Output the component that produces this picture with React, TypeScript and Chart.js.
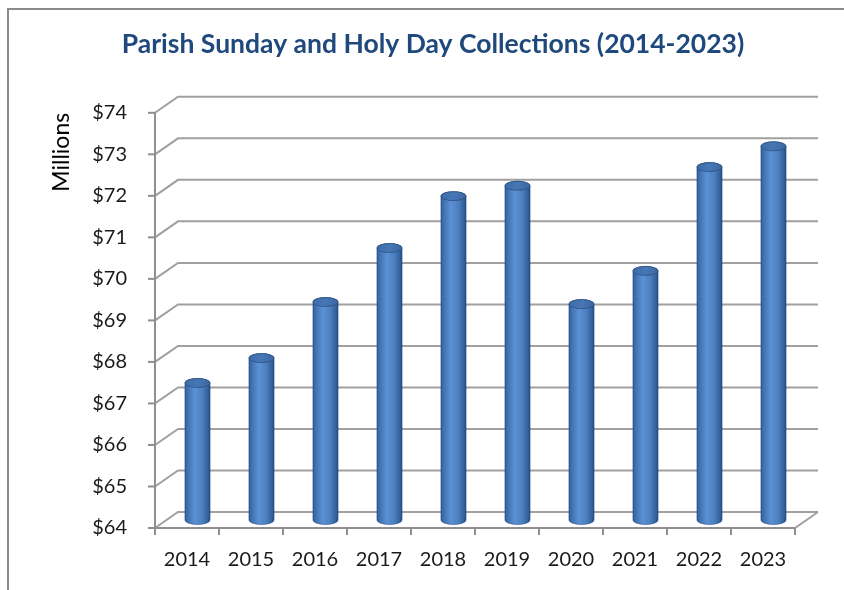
import React, { useEffect, useRef } from 'react';
import { Chart, registerables } from 'chart.js';

Chart.register(...registerables);

// ---- data ----
const years = ['2014', '2015', '2016', '2017', '2018', '2019', '2020', '2021', '2022', '2023'];
const collections = [67.3, 67.9, 69.25, 70.55, 71.8, 72.05, 69.2, 70.0, 72.5, 73.0];
const yMin = 64;
const yMax = 74;
const yStep = 1;
const chartTitle = 'Parish Sunday and Holy Day Collections (2014-2023)';
const yAxisTitle = 'Millions';

// ---- style ----
const FONT = 'Lato, "Open Sans", sans-serif';
const DEPTH_X = 23;
const DEPTH_Y = -16;
const GRID = '#a0a0a0';
const AXIS = '#8f8f8f';

function drawCylinder(ctx: CanvasRenderingContext2D, cx: number, topY: number, botY: number, w: number) {
  const rx = w / 2;
  const ry = 4.5;
  const left = cx - rx;
  const right = cx + rx;
  const g = ctx.createLinearGradient(left, 0, right, 0);
  g.addColorStop(0, '#2f5d99');
  g.addColorStop(0.12, '#4073b5');
  g.addColorStop(0.4, '#5d91d5');
  g.addColorStop(0.7, '#4b7fc1');
  g.addColorStop(0.92, '#345f98');
  g.addColorStop(1, '#2a4e80');
  ctx.save();
  ctx.beginPath();
  ctx.moveTo(left, topY);
  ctx.lineTo(left, botY);
  ctx.ellipse(cx, botY, rx, ry, 0, Math.PI, 0, true);
  ctx.lineTo(right, topY);
  ctx.ellipse(cx, topY, rx, ry, 0, 0, Math.PI, true);
  ctx.closePath();
  ctx.fillStyle = g;
  ctx.fill();
  ctx.strokeStyle = 'rgba(40,70,115,0.55)';
  ctx.lineWidth = 1;
  ctx.stroke();
  const tg = ctx.createLinearGradient(left, topY - ry, right, topY + ry);
  tg.addColorStop(0, '#3d6aa6');
  tg.addColorStop(0.5, '#4777b5');
  tg.addColorStop(1, '#3a659f');
  ctx.beginPath();
  ctx.ellipse(cx, topY, rx, ry, 0, 0, Math.PI * 2);
  ctx.fillStyle = tg;
  ctx.fill();
  ctx.strokeStyle = 'rgba(45,80,130,0.8)';
  ctx.stroke();
  ctx.restore();
}

const threeDPlugin = {
  id: 'threeD',
  afterLayout(chart: any) {
    const tb = chart.titleBlock;
    if (tb) {
      tb.left = 22;
      tb.right = 844;
      tb.width = tb.right - tb.left;
    }
  },
  beforeDraw(chart: any) {
    const ctx = chart.ctx as CanvasRenderingContext2D;
    ctx.save();
    ctx.fillStyle = '#ffffff';
    ctx.fillRect(0, 0, chart.width, chart.height);
    ctx.strokeStyle = '#8a8a8a';
    ctx.lineWidth = 2;
    ctx.beginPath();
    ctx.moveTo(8, 600);
    ctx.lineTo(8, 9);
    ctx.lineTo(850, 9);
    ctx.stroke();
    ctx.restore();
  },
  beforeDatasetsDraw(chart: any) {
    const ctx = chart.ctx as CanvasRenderingContext2D;
    const { left, right, top, bottom } = chart.chartArea;
    const yScale = chart.scales.y;
    const xScale = chart.scales.x;
    ctx.save();
    ctx.lineCap = 'butt';
    ctx.strokeStyle = GRID;
    ctx.lineWidth = 2;
    yScale.ticks.forEach((t: any) => {
      const y = yScale.getPixelForValue(t.value);
      ctx.beginPath();
      ctx.moveTo(left, y);
      ctx.lineTo(left + DEPTH_X, y + DEPTH_Y);
      ctx.lineTo(right + DEPTH_X, y + DEPTH_Y);
      ctx.stroke();
    });
    ctx.beginPath();
    ctx.moveTo(left, bottom);
    ctx.lineTo(right, bottom);
    ctx.lineTo(right + DEPTH_X, bottom + DEPTH_Y);
    ctx.stroke();
    ctx.strokeStyle = AXIS;
    ctx.beginPath();
    ctx.moveTo(left, top);
    ctx.lineTo(left, bottom);
    ctx.lineTo(right, bottom);
    ctx.stroke();
    yScale.ticks.forEach((t: any) => {
      const y = yScale.getPixelForValue(t.value);
      ctx.beginPath();
      ctx.moveTo(left - 7, y);
      ctx.lineTo(left, y);
      ctx.stroke();
    });
    const n = xScale.ticks.length;
    const step = n > 1 ? xScale.getPixelForTick(1) - xScale.getPixelForTick(0) : right - left;
    for (let i = 0; i <= n; i++) {
      const x = i < n ? xScale.getPixelForTick(i) - step / 2 : right;
      ctx.beginPath();
      ctx.moveTo(x, bottom);
      ctx.lineTo(x, bottom + 7);
      ctx.stroke();
    }
    ctx.restore();
    const meta = chart.getDatasetMeta(0);
    const basePx = yScale.getPixelForValue(yMin);
    meta.data.forEach((el: any) => {
      const cx = el.x + DEPTH_X / 2 - 1;
      const topY = el.y + DEPTH_Y / 2;
      const botY = basePx + DEPTH_Y / 2;
      drawCylinder(ctx, cx, topY, botY, el.width);
    });
    return false;
  },
};

export default function App() {
  const ref = useRef<HTMLCanvasElement | null>(null);
  useEffect(() => {
    if (!ref.current) return;
    const chart = new Chart(ref.current, {
      type: 'bar',
      data: {
        labels: years,
        datasets: [
          {
            label: 'Collections',
            data: collections,
            base: yMin,
            backgroundColor: '#4f81bd',
            categoryPercentage: 0.8,
            barPercentage: 0.49,
          },
        ],
      },
      options: {
        animation: false,
        responsive: false,
        devicePixelRatio: 1,
        layout: { padding: { left: 0, right: 49, top: 0, bottom: 0 } },
        plugins: {
          legend: { display: false },
          tooltip: { enabled: false },
          title: {
            display: true,
            text: chartTitle,
            color: '#1f497d',
            font: { family: FONT, size: 26.5, weight: 'bold', lineHeight: 1.2 },
            padding: { top: 29, bottom: 52 },
          },
        },
        scales: {
          x: {
            grid: { display: false, drawTicks: false },
            border: { display: false },
            ticks: { color: '#1a1a1a', font: { family: FONT, size: 20 }, padding: 20, maxRotation: 0 },
            afterFit: (s: any) => { s.height = 62; },
          },
          y: {
            min: yMin,
            max: yMax,
            grid: { display: false, drawTicks: false },
            border: { display: false },
            ticks: {
              stepSize: yStep,
              color: '#1a1a1a',
              font: { family: FONT, size: 20 },
              padding: 28,
              callback: (v: any) => '$' + v,
            },
            title: {
              display: true,
              text: yAxisTitle,
              align: 'end',
              color: '#000',
              font: { family: FONT, size: 23 },
              padding: { top: 48, bottom: 0 },
            },
            afterFit: (s: any) => { s.width = 155; },
          },
        },
      },
      plugins: [threeDPlugin],
    } as any);
    return () => chart.destroy();
  }, []);
  return (
    <div style={{ position: 'absolute', left: 0, top: 0, width: 844, height: 590, background: '#fff' }}>
      <canvas ref={ref} width={844} height={590} />
    </div>
  );
}
